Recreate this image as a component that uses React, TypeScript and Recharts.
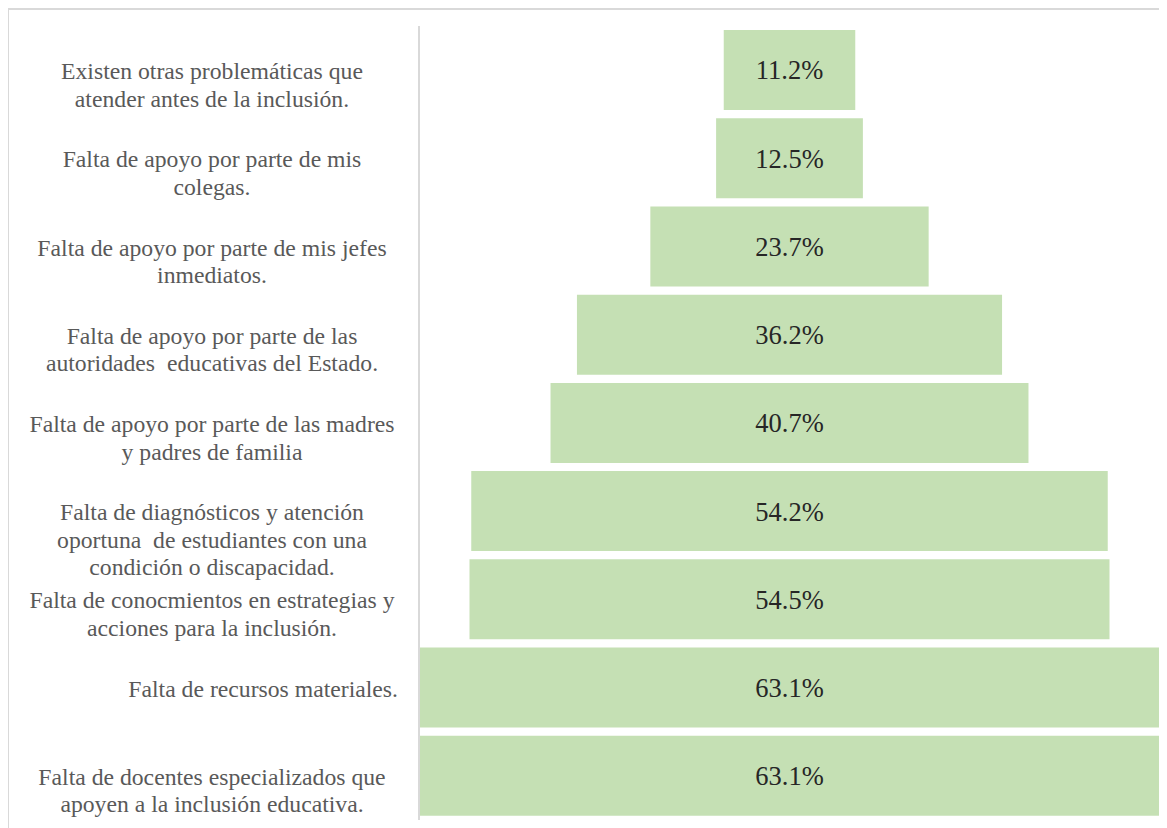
import { BarChart, Bar, XAxis, YAxis, LabelList } from "recharts";

const categories = [
  ["Existen otras problemáticas que", "atender antes de la inclusión."],
  ["Falta de apoyo por parte de mis", "colegas."],
  ["Falta de apoyo por parte de mis jefes", "inmediatos."],
  ["Falta de apoyo por parte de las", "autoridades  educativas del Estado."],
  ["Falta de apoyo por parte de las madres", "y padres de familia"],
  [
    "Falta de diagnósticos y atención",
    "oportuna  de estudiantes con una",
    "condición o discapacidad.",
  ],
  ["Falta de conocmientos en estrategias y", "acciones para la inclusión."],
  ["Falta de recursos materiales."],
  ["Falta de docentes especializados que", "apoyen a la inclusión educativa."],
];

const values = [11.2, 12.5, 23.7, 36.2, 40.7, 54.2, 54.5, 63.1, 63.1];

const maxValue = Math.max(...values);

const data = categories.map((lines, i) => ({
  name: lines.join(" "),
  lines,
  offset: (maxValue - values[i]) / 2,
  value: values[i],
}));

const FONT = "'Liberation Serif', 'Times New Roman', serif";

function CategoryTick(props: any) {
  const { x, y, index } = props;
  const lines: string[] = data[index]?.lines ?? [];
  const single = lines.length === 1;
  const tx = single ? x - 21 : x - 207;
  return (
    <text
      x={tx}
      y={y}
      textAnchor={single ? "end" : "middle"}
      fill="#595959"
      fontSize={23.7}
      fontFamily={FONT}
      style={{ whiteSpace: "pre" }}
    >
      {lines.map((line, i) => (
        <tspan key={i} x={tx} y={y + 9 + i * 27.5}>
          {line}
        </tspan>
      ))}
    </text>
  );
}

export default function App() {
  return (
    <div
      style={{
        marginLeft: -1,
        width: 1159,
        height: 820,
        borderTop: "2px solid #d9d9d9",
        borderLeft: "2px solid #d9d9d9",
      }}
    >
      <BarChart
        width={1157}
        height={818}
        data={data}
        layout="vertical"
        barCategoryGap={4}
        margin={{ top: 16, right: 6, bottom: 8, left: 0 }}
      >
        <XAxis type="number" hide domain={[0, maxValue]} />
        <YAxis
          type="category"
          dataKey="name"
          width={410}
          axisLine={{ stroke: "#d9d9d9", strokeWidth: 2 }}
          tickLine={false}
          tickSize={0}
          tickMargin={0}
          interval={0}
          tick={<CategoryTick />}
        />
        <Bar
          dataKey="offset"
          stackId="a"
          fill="transparent"
          isAnimationActive={false}
        />
        <Bar
          dataKey="value"
          stackId="a"
          fill="#c5e0b4"
          isAnimationActive={false}
        >
          <LabelList
            dataKey="value"
            position="center"
            formatter={(v: any) => `${Number(v).toFixed(1)}%`}
            fill="#262626"
            fontSize={26.5}
            fontFamily={FONT}
          />
        </Bar>
      </BarChart>
    </div>
  );
}
